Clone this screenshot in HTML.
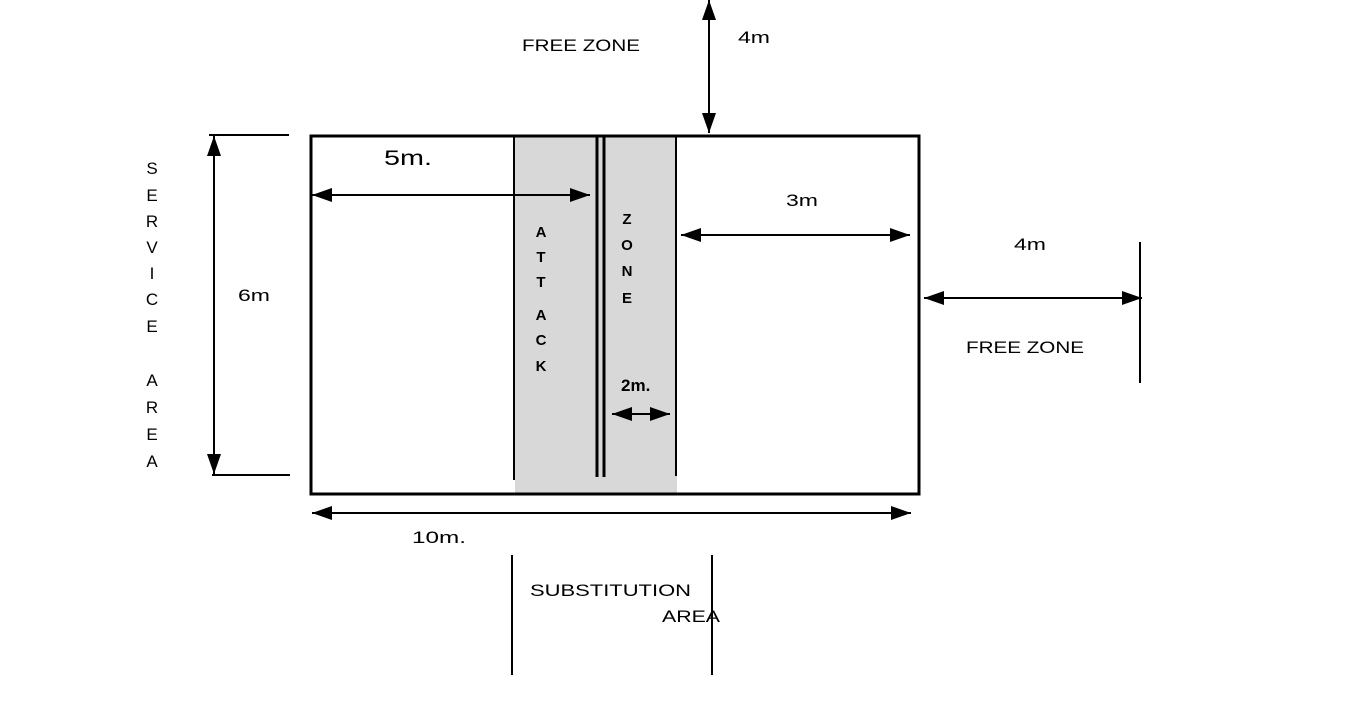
<!DOCTYPE html>
<html><head><meta charset="utf-8"><style>
html,body{margin:0;padding:0;background:#fff;width:1360px;height:702px;overflow:hidden}
svg text{font-family:"Liberation Sans",sans-serif;fill:#000}
</style></head><body>
<svg width="1360" height="702" viewBox="0 0 1360 702" xmlns="http://www.w3.org/2000/svg">
<defs>
<marker id="a" viewBox="0 0 20 14" refX="20" refY="7" markerWidth="20" markerHeight="14" markerUnits="userSpaceOnUse" orient="auto-start-reverse"><path d="M0,0 L20,7 L0,14 z" fill="#000"/></marker>
</defs>
<rect x="515" y="137" width="162" height="356" fill="#d8d8d8"/>
<rect x="311" y="136" width="608" height="358" fill="none" stroke="#000" stroke-width="3"/>
<line x1="514" y1="137" x2="514" y2="480" stroke="#000" stroke-width="2"/>
<line x1="597" y1="137" x2="597" y2="477" stroke="#000" stroke-width="3"/>
<line x1="604" y1="137" x2="604" y2="477" stroke="#000" stroke-width="3"/>
<line x1="676" y1="137" x2="676" y2="476" stroke="#000" stroke-width="2"/>
<line x1="709" y1="0" x2="709" y2="133" stroke="#000" stroke-width="2" marker-start="url(#a)" marker-end="url(#a)"/>
<text x="738" y="43" font-size="17" textLength="32" lengthAdjust="spacingAndGlyphs">4m</text>
<text x="522" y="51" font-size="17" textLength="118" lengthAdjust="spacingAndGlyphs">FREE ZONE</text>
<line x1="312" y1="195" x2="590" y2="195" stroke="#000" stroke-width="2" marker-start="url(#a)" marker-end="url(#a)"/>
<text x="384" y="165" font-size="21" textLength="48" lengthAdjust="spacingAndGlyphs">5m.</text>
<line x1="681" y1="235" x2="910" y2="235" stroke="#000" stroke-width="2" marker-start="url(#a)" marker-end="url(#a)"/>
<text x="786" y="206" font-size="17" textLength="32" lengthAdjust="spacingAndGlyphs">3m</text>
<line x1="924" y1="298" x2="1142" y2="298" stroke="#000" stroke-width="2" marker-start="url(#a)" marker-end="url(#a)"/>
<line x1="1140" y1="242" x2="1140" y2="383" stroke="#000" stroke-width="2"/>
<text x="1014" y="250" font-size="17" textLength="32" lengthAdjust="spacingAndGlyphs">4m</text>
<text x="966" y="353" font-size="17" textLength="118" lengthAdjust="spacingAndGlyphs">FREE ZONE</text>
<line x1="612" y1="414" x2="670" y2="414" stroke="#000" stroke-width="2" marker-start="url(#a)" marker-end="url(#a)"/>
<text x="621" y="391" font-size="17" font-weight="bold">2m.</text>
<g font-size="15" font-weight="bold" text-anchor="middle">
<text x="541" y="237">A</text><text x="541" y="262">T</text><text x="541" y="287">T</text><text x="541" y="320">A</text><text x="541" y="345">C</text><text x="541" y="371">K</text>
<text x="627" y="224">Z</text><text x="627" y="250">O</text><text x="627" y="276">N</text><text x="627" y="303">E</text>
</g>
<line x1="214" y1="136" x2="214" y2="474" stroke="#000" stroke-width="2" marker-start="url(#a)" marker-end="url(#a)"/>
<line x1="209" y1="135" x2="289" y2="135" stroke="#000" stroke-width="2"/>
<line x1="212" y1="475" x2="290" y2="475" stroke="#000" stroke-width="2"/>
<text x="238" y="301" font-size="17" textLength="32" lengthAdjust="spacingAndGlyphs">6m</text>
<g font-size="17" text-anchor="middle">
<text x="152" y="174">S</text><text x="152" y="201">E</text><text x="152" y="227">R</text><text x="152" y="253">V</text><text x="152" y="279">I</text><text x="152" y="305">C</text><text x="152" y="332">E</text>
<text x="152" y="386">A</text><text x="152" y="413">R</text><text x="152" y="440">E</text><text x="152" y="467">A</text>
</g>
<line x1="312" y1="513" x2="911" y2="513" stroke="#000" stroke-width="2" marker-start="url(#a)" marker-end="url(#a)"/>
<text x="412" y="543" font-size="17" textLength="54" lengthAdjust="spacingAndGlyphs">10m.</text>
<line x1="512" y1="555" x2="512" y2="675" stroke="#000" stroke-width="2"/>
<line x1="712" y1="555" x2="712" y2="675" stroke="#000" stroke-width="2"/>
<text x="530" y="596" font-size="17" textLength="161" lengthAdjust="spacingAndGlyphs">SUBSTITUTION</text>
<text x="662" y="622" font-size="17" textLength="58" lengthAdjust="spacingAndGlyphs">AREA</text>
</svg>
</body></html>
